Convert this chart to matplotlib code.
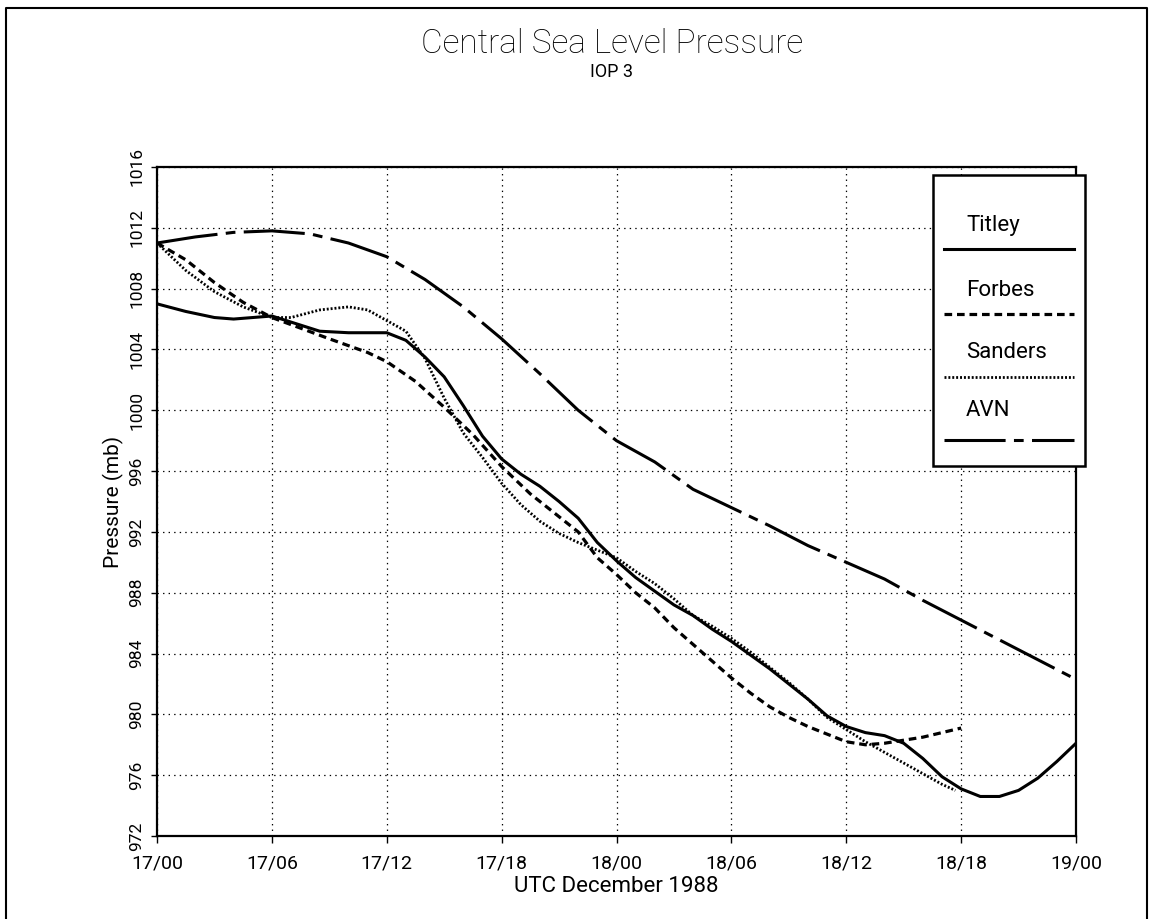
import numpy as np
import matplotlib
matplotlib.use("Agg")
import matplotlib.pyplot as plt
from matplotlib.lines import Line2D
from matplotlib.patches import Rectangle

plt.rcParams['font.family'] = ['Roboto', 'DejaVu Sans']
plt.rcParams['lines.scale_dashes'] = False

# DATA (hours after 17/00 UTC, pressure in mb)
titley_h = [0, 1.5, 3, 4, 5, 6, 7, 8.5, 10, 12, 13, 14, 15, 16, 17, 18, 19, 20, 21, 22, 23,
            24, 25, 26, 27, 28, 29, 30, 31, 32, 33, 34, 35, 36, 37, 38, 39, 40, 41, 42,
            43, 44, 45, 46, 47, 48]
titley_p = [1007.0, 1006.5, 1006.1, 1006.0, 1006.1, 1006.2, 1005.8, 1005.2, 1005.1, 1005.1,
            1004.6, 1003.5, 1002.2, 1000.3, 998.3, 996.8, 995.8, 995.0, 994.0, 992.9, 991.3,
            990.1, 989.0, 988.1, 987.2, 986.5, 985.6, 984.8, 983.9, 983.0, 982.0,
            981.0, 979.9, 979.2, 978.8, 978.6, 978.1, 977.1, 975.9, 975.1,
            974.6, 974.6, 975.0, 975.8, 976.9, 978.1]

forbes_h = [0, 1.5, 3, 4.5, 6, 7.5, 9, 11, 12, 13.5, 15, 16.5, 18, 19.5, 21, 22, 23, 24,
            25, 26, 27, 28, 29, 30, 31, 32, 33, 34, 35, 36, 37, 38, 39, 40, 41, 42]
forbes_p = [1011.0, 1009.9, 1008.4, 1007.1, 1006.1, 1005.4, 1004.7, 1003.8, 1003.2, 1001.9,
            1000.2, 998.4, 996.3, 994.5, 993.0, 992.0, 990.3, 989.2,
            988.0, 987.0, 985.7, 984.6, 983.5, 982.4, 981.4, 980.5, 979.8, 979.2, 978.7,
            978.2, 978.0, 978.1, 978.3, 978.5, 978.8, 979.1]

sanders_h = [0, 1.5, 3, 4.5, 6, 7, 8.5, 10, 11, 12, 13, 14, 15, 16, 17, 18, 19, 20, 21, 22,
             23, 24, 25, 26, 27, 28, 29, 30, 31, 32, 33, 34, 35, 36, 37, 38, 39, 40, 41, 41.7]
sanders_p = [1011.0, 1009.2, 1007.8, 1006.8, 1006.1, 1006.1, 1006.6, 1006.8, 1006.6, 1005.9,
             1005.2, 1003.4, 1000.8, 998.5, 996.9, 995.2, 993.8, 992.7, 991.9, 991.3,
             990.8, 990.3, 989.4, 988.6, 987.6, 986.5, 985.8, 985.0, 984.1, 983.1,
             982.1, 981.0, 979.8, 979.0, 978.2, 977.5, 976.8, 976.1, 975.4, 975.0]

avn_h = [0, 2, 4, 6, 8, 10, 12, 14, 16, 18, 20, 22, 24, 26, 28, 30, 32, 34, 36, 38, 40,
         42, 44, 46, 48]
avn_p = [1011.0, 1011.4, 1011.7, 1011.8, 1011.6, 1011.0, 1010.1, 1008.6, 1006.8, 1004.7,
         1002.4, 1000.0, 998.0, 996.6, 994.8, 993.6, 992.4, 991.1, 990.0, 988.9, 987.5,
         986.2, 984.9, 983.6, 982.3]

xtick_labels = ['17/00', '17/06', '17/12', '17/18', '18/00', '18/06', '18/12', '18/18', '19/00']
names = ['Titley', 'Forbes', 'Sanders', 'AVN']

W, H = 1151, 919
fig = plt.figure(figsize=(W / 100, H / 100), dpi=100)

def fx(px):
    return px / W

def fy(py):
    return 1 - py / H

ax = fig.add_axes([fx(157), fy(836), fx(1076) - fx(157), fy(167) - fy(836)])

styles = {
    'Titley': dict(ls='-', lw=2.2),
    'Forbes': dict(ls=(0, (5.5, 3.5)), lw=2.3),
    'Sanders': dict(ls=(0, (1.4, 1.4)), lw=2.0),
    'AVN': dict(ls=(0, (44, 6, 7, 6)), lw=2.2),
}

ax.plot(titley_h, titley_p, color='black', **styles['Titley'])
ax.plot(forbes_h, forbes_p, color='black', **styles['Forbes'])
ax.plot(sanders_h, sanders_p, color='black', **styles['Sanders'])
ax.plot(avn_h, avn_p, color='black', **styles['AVN'])

ax.set_xlim(0, 48)
ax.set_ylim(972, 1016)
ax.set_xticks(np.arange(0, 49, 6))
ax.set_xticklabels(xtick_labels)
ax.set_yticks(np.arange(972, 1017, 4))
ax.tick_params(axis='y', labelrotation=90, labelsize=12.5, length=4, width=1, pad=5)
ax.tick_params(axis='x', labelsize=14, length=5, width=1, pad=8)
for lab in ax.get_yticklabels():
    lab.set_verticalalignment('center')
ax.grid(True, color='black', ls=(0, (1, 3)), lw=0.9)
for s in ax.spines.values():
    s.set_linewidth(1.6)

ax.set_xlabel('UTC December 1988', fontsize=16, labelpad=3)
ax.set_ylabel('Pressure (mb)', fontsize=15, labelpad=4)

fig.text(fx(612), fy(53), 'Central Sea Level Pressure', fontsize=24, fontweight='light',
         ha='center', va='baseline')
fig.text(fx(612), fy(77), 'IOP 3', fontsize=13, ha='center', va='baseline')

# legend box: name above line sample
fig.add_artist(Rectangle((fx(933), fy(466)), fx(1085) - fx(933), fy(175) - fy(466),
                         transform=fig.transFigure, facecolor='white', edgecolor='black',
                         lw=1.8, zorder=5))
text_y = [226, 290, 352, 410]
line_y = [249, 314, 377, 440]
for name, ty, ly in zip(names, text_y, line_y):
    fig.text(fx(966), fy(ty), name, fontsize=16, ha='left', va='center', zorder=6)
    fig.add_artist(Line2D([fx(944), fx(1074)], [fy(ly), fy(ly)], transform=fig.transFigure,
                          color='black', zorder=6, **styles[name]))

# scan frame
fig.add_artist(Line2D([fx(6), fx(6), fx(1147), fx(1147)], [0, fy(8), fy(8), 0],
                      transform=fig.transFigure, color='black', lw=1.5))

fig.savefig('out.png', dpi=100)
